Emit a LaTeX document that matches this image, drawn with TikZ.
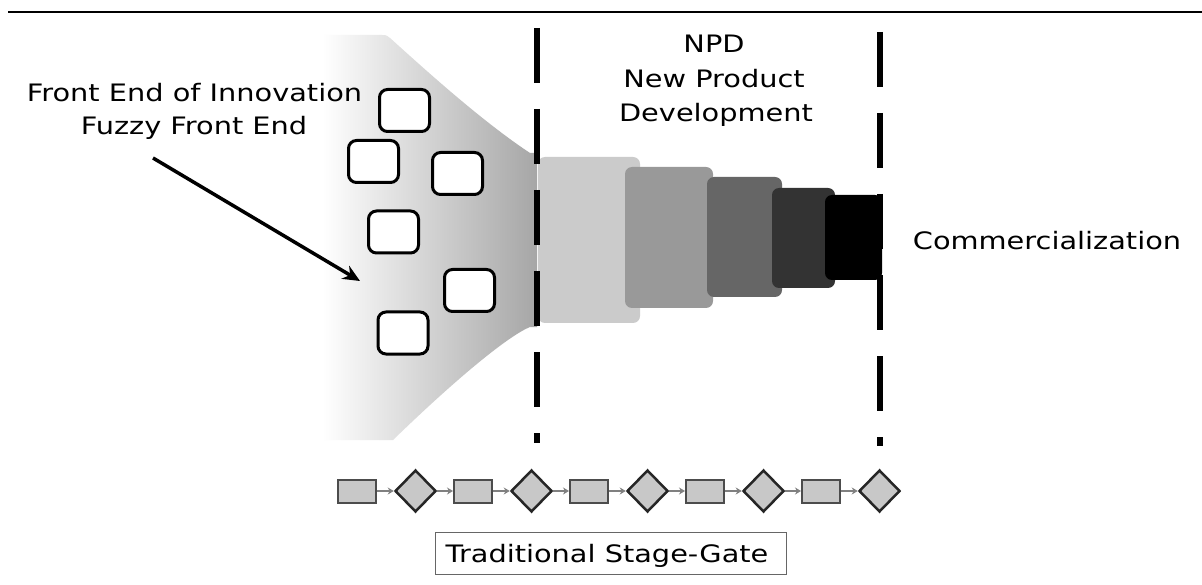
\documentclass[tikz,border=0pt]{standalone}
\usepackage{fontspec}
\setmainfont{DejaVu Sans}[FakeStretch=1.2]
\usetikzlibrary{shapes.geometric,arrows.meta}
\definecolor{fuzzy}{HTML}{A6A6A6}
\definecolor{blkA}{HTML}{CBCBCB}
\definecolor{blkB}{HTML}{999999}
\definecolor{blkC}{HTML}{666666}
\definecolor{blkD}{HTML}{333333}
\definecolor{blkE}{HTML}{000000}
\definecolor{sgfill}{HTML}{C8C8C8}
\begin{document}
\begin{tikzpicture}[x=1pt,y=-1pt,
  idea/.style={draw=black,line width=3pt,fill=white,rounded corners=8pt,minimum width=50pt,minimum height=42pt,inner sep=0pt},
  stagebox/.style={draw=black!70,line width=2pt,fill=sgfill,minimum width=38pt,minimum height=23pt,inner sep=0pt},
  gatebox/.style={diamond,aspect=1,draw=black!85,line width=2.5pt,fill=sgfill,minimum width=41pt,minimum height=42pt,inner sep=0pt},
  flow/.style={draw=black!50,line width=1.5pt,-{Stealth[length=6pt,width=7pt]}},
  block/.style={rounded corners=7pt},
  gatedash/.style={line width=6pt,dash pattern=on 55pt off 26pt},
  lbl/.style={font=\fontsize{24}{28}\selectfont,anchor=base,inner sep=0pt}]
\useasboundingbox[fill=white] (0,0) rectangle (1202,585);

% top rule
\draw[line width=2.5pt] (8,12) -- (1202,12);

% fuzzy front end shape
\shade[left color=white,right color=fuzzy]
  (322,35) -- (382,35) .. controls (386,35) .. (390,38)
  .. controls (420,65) and (480,120) .. (530,153)
  -- (537,153) -- (537,327) -- (530,327)
  .. controls (510,335) and (460,375) .. (393,440) -- (322,440) -- cycle;

% NPD funnel blocks
\fill[block,blkA] (538,157) rectangle (640,323);
\fill[block,blkB] (625,167) rectangle (713,308);
\fill[block,blkC] (707,177) rectangle (782,297);
\fill[block,blkD] (772,188) rectangle (835,288);
\fill[block,blkE] (825,195) rectangle (882,280);

% dashed separators
\draw[gatedash] (537,28) -- (537,443);
\draw[gatedash] (880,32) -- (880,446);

% idea boxes
\node[idea] (i1) at (404.5,110.5) {};
\node[idea] (i2) at (373.5,161.5) {};
\node[idea] (i3) at (457.5,173.5) {};
\node[idea] (i4) at (393.5,232) {};
\node[idea] (i5) at (469.5,290.5) {};
\node[idea] (i6) at (403,333) {};

% labels
\node[lbl] (fe1) at (194.5,102) {Front End of Innovation};
\node[lbl] (fe2) at (194,135) {Fuzzy Front End};
\node[lbl] (npd1) at (714,53) {NPD};
\node[lbl] (npd2) at (714,88) {New Product};
\node[lbl] (npd3) at (716,122) {Development};
\node[lbl] (com) at (1047,250) {Commercialization};

% pointer arrow
\coordinate (tail) at (153,158);
\coordinate (tip) at (360,281);
\draw[line width=3.5pt,-{Stealth[length=17pt,width=15pt]}] (tail) -- (tip);

% stage-gate chain
\foreach \i in {0,...,4}{
  \node[stagebox] (s\i) at ({357+116*\i},491) {};
  \node[gatebox] (g\i) at ({415.5+116*\i},491) {};
  \draw[flow] (s\i) -- (g\i);
}
\foreach \i/\j in {0/1,1/2,2/3,3/4}{
  \draw[flow] (g\i) -- (s\j);
}

% label box
\node[draw=black!60,line width=1.5pt,fill=white,minimum width=351pt,minimum height=42pt,inner sep=0pt] (sgbox) at (611,553.5) {};
\node[lbl] (sgtext) at (607,562) {Traditional Stage-Gate};
\end{tikzpicture}
\end{document}
